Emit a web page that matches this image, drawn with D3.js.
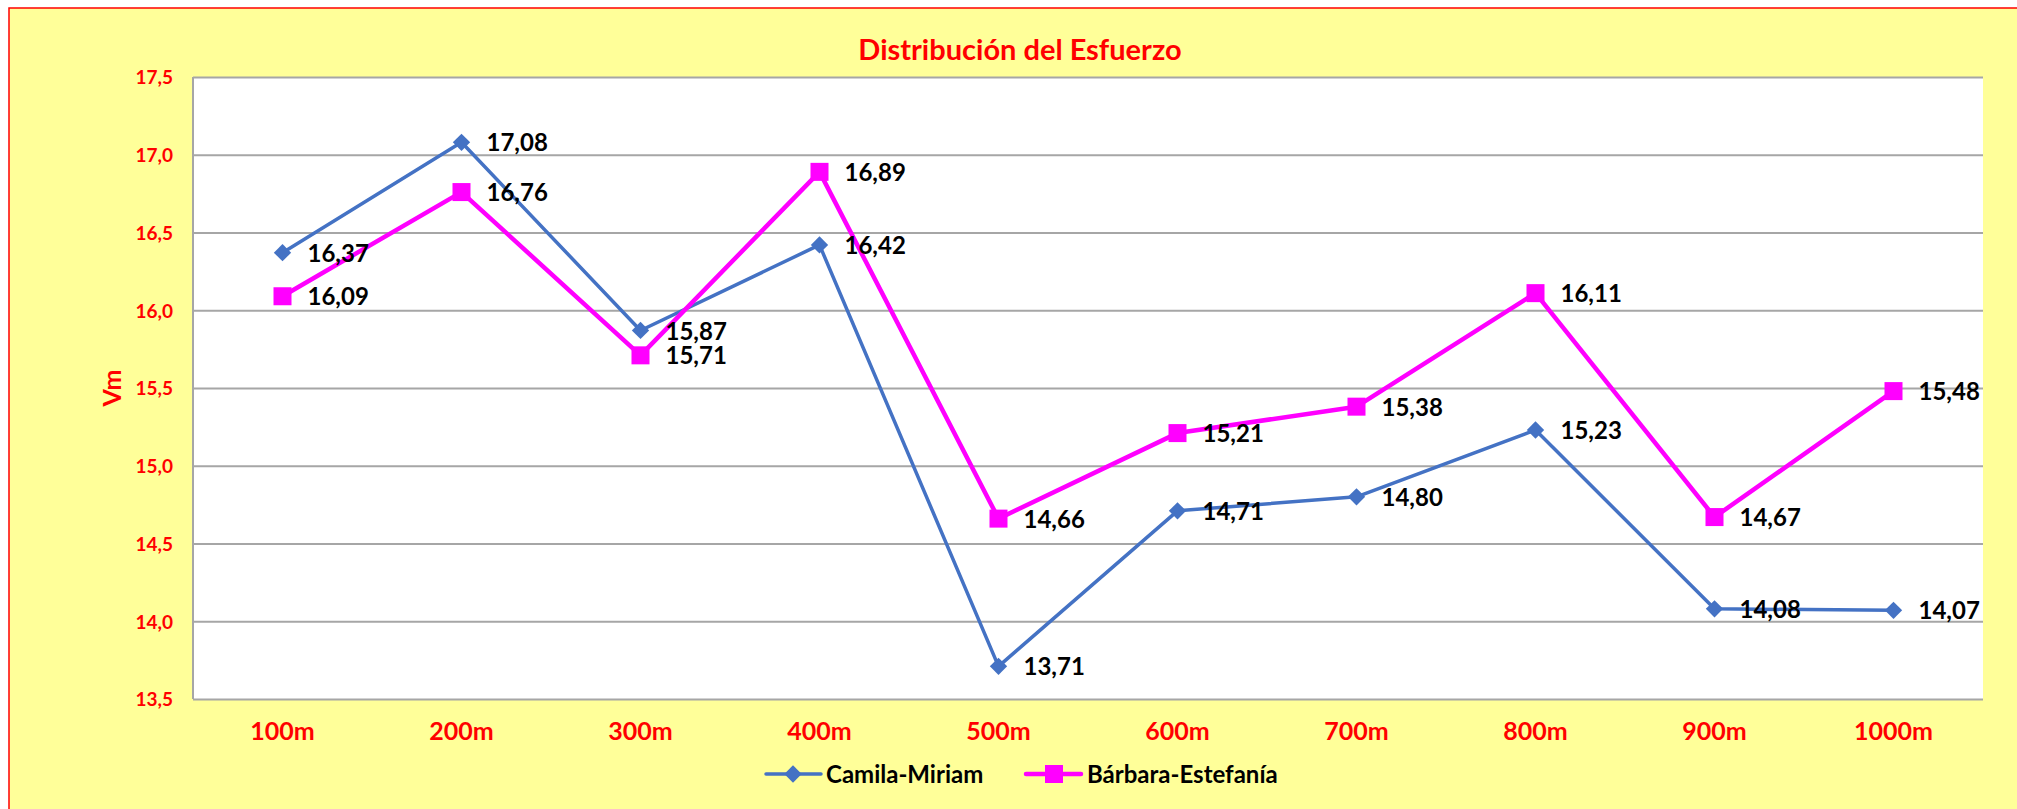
<!DOCTYPE html>
<html>
<head>
<meta charset="utf-8">
<script src="https://cdn.jsdelivr.net/npm/d3@7"></script>
<style>
  html, body { margin: 0; padding: 0; background: #ffffff; }
  svg { display: block; }
  text { font-family: Lato, "Open Sans", sans-serif; font-weight: bold; }
</style>
</head>
<body>
<svg id="chart" width="2017" height="809"></svg>
<script>
const categories = ["100m","200m","300m","400m","500m","600m","700m","800m","900m","1000m"];
const camilaMiriam = [16.37, 17.08, 15.87, 16.42, 13.71, 14.71, 14.80, 15.23, 14.08, 14.07];
const barbaraEstefania = [16.09, 16.76, 15.71, 16.89, 14.66, 15.21, 15.38, 16.11, 14.67, 15.48];
const yTicks = [13.5, 14.0, 14.5, 15.0, 15.5, 16.0, 16.5, 17.0, 17.5];
const seriesNames = ["Camila-Miriam", "Bárbara-Estefanía"];
const title = "Distribución del Esfuerzo";
const yTitle = "Vm";

const W = 2017, H = 809;
const plot = { left: 193, right: 1983, top: 77, bottom: 699 };
const svg = d3.select("#chart");

// chart background with red border
svg.append("rect").attr("x", 9).attr("y", 8).attr("width", W + 10).attr("height", H + 10)
  .attr("fill", "#FFFF99").attr("stroke", "#FF0000").attr("stroke-width", 1.5);

// plot area
svg.append("rect").attr("x", plot.left).attr("y", plot.top)
  .attr("width", plot.right - plot.left).attr("height", plot.bottom - plot.top)
  .attr("fill", "#ffffff");

const x = d3.scaleBand().domain(categories).range([plot.left, plot.right]);
const y = d3.scaleLinear().domain([13.5, 17.5]).range([plot.bottom, plot.top]);
const fmt = v => d3.format(".1f")(v).replace(".", ",");
const fmt2 = v => d3.format(".2f")(v).replace(".", ",");

// gridlines
const yAxis = d3.axisLeft(y).tickValues(yTicks).tickSize(-(plot.right - plot.left)).tickFormat(fmt).tickPadding(20);
const gy = svg.append("g").attr("transform", `translate(${plot.left},0)`).call(yAxis);
gy.select(".domain").remove();
gy.selectAll(".tick line").attr("stroke", "#A6A6A6").attr("stroke-width", 2);
gy.selectAll(".tick text").attr("fill", "#FF0000").style("font-size", "19px").attr("dy", "0.36em");

// left axis line
svg.append("line").attr("x1", plot.left).attr("x2", plot.left).attr("y1", plot.top).attr("y2", plot.bottom)
  .attr("stroke", "#A6A6A6").attr("stroke-width", 2);

// x axis labels
const xAxis = d3.axisBottom(x).tickSize(0).tickPadding(23);
const gx = svg.append("g").attr("transform", `translate(0,${plot.bottom})`).call(xAxis);
gx.select(".domain").remove();
gx.selectAll(".tick text").attr("fill", "#FF0000").style("font-size", "25px");

// title
svg.append("text").attr("x", 1020).attr("y", 60).attr("text-anchor", "middle")
  .attr("fill", "#FF0000").style("font-size", "29px").text(title);

// y axis title
svg.append("text").attr("transform", "translate(121,388) rotate(-90)").attr("text-anchor", "middle")
  .attr("fill", "#FF0000").style("font-size", "25px").text(yTitle);

const cx = (d, i) => x(categories[i]) + x.bandwidth() / 2;
const line = d3.line().x((d, i) => cx(d, i)).y(d => y(d));

// Camila-Miriam
svg.append("path").datum(camilaMiriam).attr("d", line).attr("fill", "none")
  .attr("stroke", "#4472C4").attr("stroke-width", 3.5).attr("stroke-linejoin", "round");
svg.selectAll(".diamond").data(camilaMiriam).enter().append("path")
  .attr("d", d3.symbol().type(d3.symbolSquare).size(150))
  .attr("transform", (d, i) => `translate(${cx(d, i)},${y(d)}) rotate(45)`)
  .attr("fill", "#4472C4");

// Bárbara-Estefanía
svg.append("path").datum(barbaraEstefania).attr("d", line).attr("fill", "none")
  .attr("stroke", "#FF00FF").attr("stroke-width", 4.5).attr("stroke-linejoin", "round");
svg.selectAll(".square").data(barbaraEstefania).enter().append("rect")
  .attr("x", (d, i) => cx(d, i) - 9).attr("y", d => y(d) - 9)
  .attr("width", 18).attr("height", 18).attr("fill", "#FF00FF");

// data labels
[camilaMiriam, barbaraEstefania].forEach(arr => {
  svg.append("g").selectAll("text").data(arr).enter().append("text")
    .attr("x", (d, i) => cx(d, i) + 25).attr("y", d => y(d)).attr("dy", "0.38em")
    .attr("fill", "#000000").style("font-size", "24px").text(d => fmt2(d));
});

// legend
const lg = svg.append("g");
lg.append("line").attr("x1", 766).attr("x2", 821).attr("y1", 774).attr("y2", 774)
  .attr("stroke", "#4472C4").attr("stroke-width", 3.5).attr("stroke-linecap", "round");
lg.append("path").attr("d", d3.symbol().type(d3.symbolSquare).size(150))
  .attr("transform", "translate(793,774) rotate(45)").attr("fill", "#4472C4");
lg.append("text").attr("x", 826).attr("y", 774).attr("dy", "0.38em").attr("fill", "#000")
  .style("font-size", "24px").text(seriesNames[0]);
lg.append("line").attr("x1", 1026).attr("x2", 1081).attr("y1", 774).attr("y2", 774)
  .attr("stroke", "#FF00FF").attr("stroke-width", 4.5).attr("stroke-linecap", "round");
lg.append("rect").attr("x", 1045).attr("y", 765).attr("width", 18).attr("height", 18).attr("fill", "#FF00FF");
lg.append("text").attr("x", 1087).attr("y", 774).attr("dy", "0.38em").attr("fill", "#000")
  .style("font-size", "24px").text(seriesNames[1]);
</script>
</body>
</html>
